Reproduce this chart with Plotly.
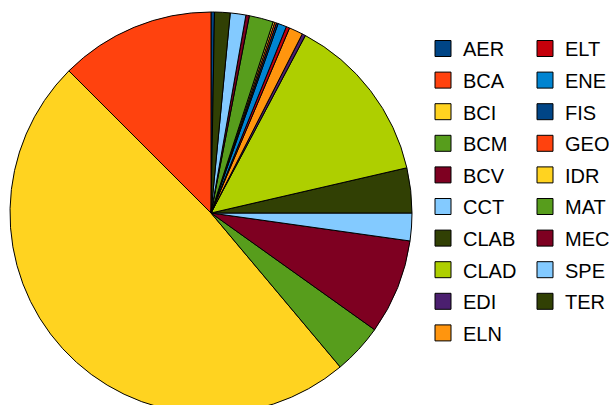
import plotly.graph_objects as go

# --------------------- Data
categories = ["AER", "BCA", "BCI", "BCM", "BCV", "CCT", "CLAB", "CLAD", "EDI", "ELN",
              "ELT", "ENE", "FIS", "GEO", "IDR", "MAT", "MEC", "SPE", "TER"]
counts = [2, 90, 350, 29, 55, 16, 26, 98, 2, 8,
          2, 5, 1, 1, 1, 14, 2, 9, 9]
colors = ["#004586", "#ff420e", "#ffd320", "#579d1c", "#7e0021", "#83caff", "#314004",
          "#aecf00", "#4b1f6f", "#ff950e", "#c5000b", "#0084d1", "#004586", "#ff420e",
          "#ffd320", "#579d1c", "#7e0021", "#83caff", "#314004"]

# body margin is removed below, figure is a bit taller than the window
# because the pie runs off the bottom edge
W, H = 609, 425

fig = go.Figure()

# Pie itself, counterclockwise from 12 o'clock like the original
fig.add_trace(go.Pie(
    labels=categories, values=counts, sort=False, direction="counterclockwise",
    rotation=0, textinfo="none", hoverinfo="label+value+percent",
    marker=dict(colors=colors, line=dict(color="black", width=1)),
    showlegend=False,
    domain=dict(x=[10 / W, 412 / W], y=[(H - 414) / H, (H - 12) / H]),
))

# Legend entries in two columns (first 10 left, rest right)
for i, (name, col) in enumerate(zip(categories, colors)):
    fig.add_trace(go.Scatter(
        x=[None], y=[None], mode="markers", name=name,
        marker=dict(symbol="square", size=16, color=col, line=dict(color="black", width=1)),
        legend="legend" if i < 10 else "legend2", legendgroup=name,
    ))

legend_style = dict(font=dict(family="Liberation Sans, Arial", size=20, color="black"),
                    tracegroupgap=2.6, bgcolor="rgba(0,0,0,0)", yanchor="top", xanchor="left",
                    itemclick=False)
fig.update_layout(
    width=W, height=H, margin=dict(l=0, r=0, t=0, b=0, autoexpand=False),
    paper_bgcolor="white", plot_bgcolor="white",
    xaxis=dict(visible=False), yaxis=dict(visible=False),
    legend=dict(x=423 / W, y=1 - 29 / H, **legend_style),
    legend2=dict(x=525 / W, y=1 - 29 / H, **legend_style),
)

# no page margin, no scrollbars, no modebar
fig.write_html("out.html", config={"displayModeBar": False},
               post_script="document.body.style.margin='0';"
                           "document.documentElement.style.overflow='hidden';")
